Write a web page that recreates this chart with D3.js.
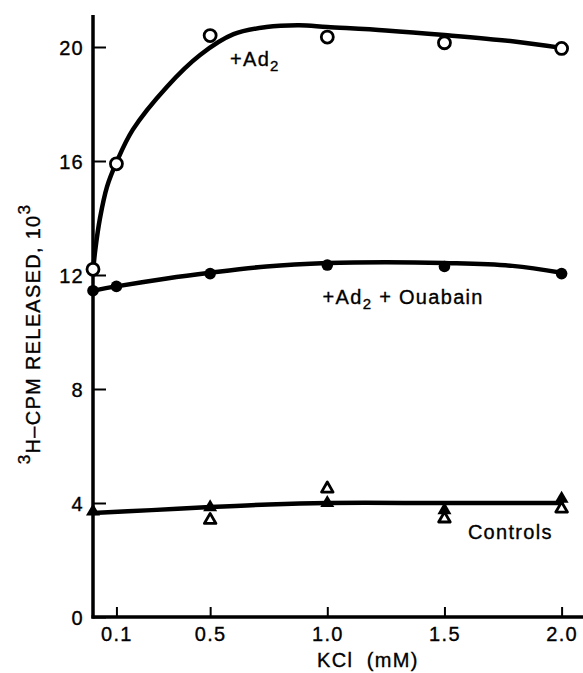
<!DOCTYPE html>
<html>
<head>
<meta charset="utf-8">
<script src="https://cdn.jsdelivr.net/npm/d3@7"></script>
<style>
  html, body { margin: 0; padding: 0; background: #fff; }
  svg text { font-family: "Liberation Sans", Arial, Helvetica, sans-serif; fill: #000; stroke: #000; stroke-width: 0.35px; }
</style>
</head>
<body>
<svg id="chart" width="583" height="673"></svg>
<script>
// ---- data ----
const kcl = [0, 0.1, 0.5, 1.0, 1.5, 2.0];
const ad2 = [12.2, 15.9, 20.4, 20.35, 20.15, 19.95];
const ad2Ouabain = [11.45, 11.6, 12.05, 12.35, 12.3, 12.05];

const controlsFilledX = [0, 0.5, 1.0, 1.5, 2.0];
const controlsFilled = [3.7, 3.85, 4.0, 3.75, 4.15];
const controlsOpenX = [0.5, 1.0, 1.5, 2.0];
const controlsOpen = [3.4, 4.5, 3.45, 3.8];

// hand-drawn fitted curves
const ad2FitX = [0, 0.01, 0.03, 0.06, 0.1, 0.17, 0.315, 0.457, 0.6, 0.74, 0.88, 1.0, 1.25, 1.5, 1.79, 2.0];
const ad2Fit  = [12.1, 12.9, 14.0, 15.1, 15.95, 17.1, 18.6, 19.72, 20.45, 20.7, 20.76, 20.7, 20.58, 20.42, 20.2, 19.97];
const ouabainFitX = [0, 0.1, 0.315, 0.5, 0.74, 1.0, 1.25, 1.5, 1.79, 2.0];
const ouabainFit  = [11.45, 11.6, 11.88, 12.08, 12.3, 12.42, 12.45, 12.42, 12.32, 12.08];
const controlsFitX = [0, 0.25, 0.5, 0.75, 1.0, 1.5, 2.0];
const controlsFit  = [3.65, 3.75, 3.86, 3.95, 4.0, 4.0, 4.0];

const xTicks = [0.1, 0.5, 1.0, 1.5, 2.0];
const xTickLabels = ["0.1", "0.5", "1.0", "1.5", "2.0"];
const yTicks = [0, 4, 8, 12, 16, 20];
const yTickLabels = ["0", "4", "8", "12", "16", "20"];

// ---- scales ----
const svg = d3.select("#chart");
const x = d3.scaleLinear().domain([0, 2.0]).range([93, 561.6]);
const y = d3.scaleLinear().domain([0, 20]).range([617, 47]);

const FS = 20;
const LS = "1.3px";

// axes
const yAxis = d3.axisLeft(y).tickValues(yTicks).tickFormat((d, i) => yTickLabels[i])
  .tickSize(-13).tickPadding(9);
const gy = svg.append("g").attr("transform", `translate(${x(0)},0)`).call(yAxis);
gy.select(".domain").remove();
gy.selectAll(".tick line").attr("stroke", "#000").attr("stroke-width", 2);
gy.selectAll(".tick text").attr("font-size", FS).attr("dy", "0.36em").style("letter-spacing", LS);

const xAxis = d3.axisBottom(x).tickValues(xTicks).tickFormat((d, i) => xTickLabels[i])
  .tickSize(-10).tickPadding(10);
const gx = svg.append("g").attr("transform", `translate(0,${y(0)})`).call(xAxis);
gx.select(".domain").remove();
gx.selectAll(".tick line").attr("stroke", "#000").attr("stroke-width", 2);
gx.selectAll(".tick text").attr("font-size", FS).attr("dy", "0.71em").style("letter-spacing", LS);
gy.attr("font-family", null);
gx.attr("font-family", null);

// axis lines
svg.append("line").attr("x1", x(0)).attr("x2", x(0)).attr("y1", y(21.12)).attr("y2", y(0) + 1.5)
  .attr("stroke", "#000").attr("stroke-width", 3.5);
svg.append("line").attr("x1", x(0) - 1.5).attr("x2", 583).attr("y1", y(0)).attr("y2", y(0))
  .attr("stroke", "#000").attr("stroke-width", 3.5);

// fitted curves
const line = d3.line().x(d => x(d[0])).y(d => y(d[1])).curve(d3.curveCatmullRom.alpha(0.5));
function drawFit(xs, ys) {
  svg.append("path").datum(xs.map((v, i) => [v, ys[i]]))
    .attr("d", line).attr("fill", "none").attr("stroke", "#000")
    .attr("stroke-width", 4.5).attr("stroke-linecap", "round");
}
drawFit(ad2FitX, ad2Fit);
drawFit(ouabainFitX, ouabainFit);
drawFit(controlsFitX, controlsFit);

// markers
svg.append("g").selectAll("circle").data(kcl.map((v, i) => [v, ad2[i]])).join("circle")
  .attr("cx", d => x(d[0])).attr("cy", d => y(d[1])).attr("r", 6)
  .attr("fill", "#fff").attr("stroke", "#000").attr("stroke-width", 2.8);

svg.append("g").selectAll("circle").data(kcl.map((v, i) => [v, ad2Ouabain[i]])).join("circle")
  .attr("cx", d => x(d[0])).attr("cy", d => y(d[1])).attr("r", 5.8).attr("fill", "#000");

const triFilled = d3.symbol().type(d3.symbolTriangle).size(85);
const triOpen = d3.symbol().type(d3.symbolTriangle).size(58);
svg.append("g").selectAll("path").data(controlsOpenX.map((v, i) => [v, controlsOpen[i]])).join("path")
  .attr("d", triOpen).attr("transform", d => `translate(${x(d[0])},${y(d[1])})`)
  .attr("fill", "#fff").attr("stroke", "#000").attr("stroke-width", 2.8).attr("stroke-linejoin", "round");
svg.append("g").selectAll("path").data(controlsFilledX.map((v, i) => [v, controlsFilled[i]])).join("path")
  .attr("d", triFilled).attr("transform", d => `translate(${x(d[0])},${y(d[1])})`)
  .attr("fill", "#000");

// series labels
function seriesLabel(px, py, parts) {
  const t = svg.append("text").attr("x", px).attr("y", py).attr("font-size", FS).style("letter-spacing", LS);
  parts.forEach(p => {
    const s = t.append("tspan").text(p.t);
    if (p.sub) s.attr("font-size", FS * 0.75).attr("dy", 5);
    if (p.back) s.attr("dy", -5);
  });
  return t;
}
seriesLabel(x(0.585), y(19.35), [{t: "+Ad"}, {t: "2", sub: true}]);
seriesLabel(x(0.98), y(10.98), [{t: "+Ad"}, {t: "2", sub: true}, {t: " + Ouabain", back: true}]);
seriesLabel(x(1.6), y(2.75), [{t: "Controls"}]);

// axis titles
svg.append("text").attr("x", 317).attr("y", 667)
  .attr("font-size", FS).style("letter-spacing", LS).attr("xml:space", "preserve").text("KCl  (mM)");

const yl = svg.append("text").attr("transform", `translate(40,334) rotate(-90)`)
  .attr("text-anchor", "middle").attr("font-size", FS).style("letter-spacing", LS);
yl.append("tspan").text("3").attr("font-size", FS * 0.85).attr("dy", -10);
yl.append("tspan").text("H–CPM RELEASED, 10").attr("dy", 10);
yl.append("tspan").text("3").attr("font-size", FS * 0.85).attr("dy", -10);
</script>
</body>
</html>
